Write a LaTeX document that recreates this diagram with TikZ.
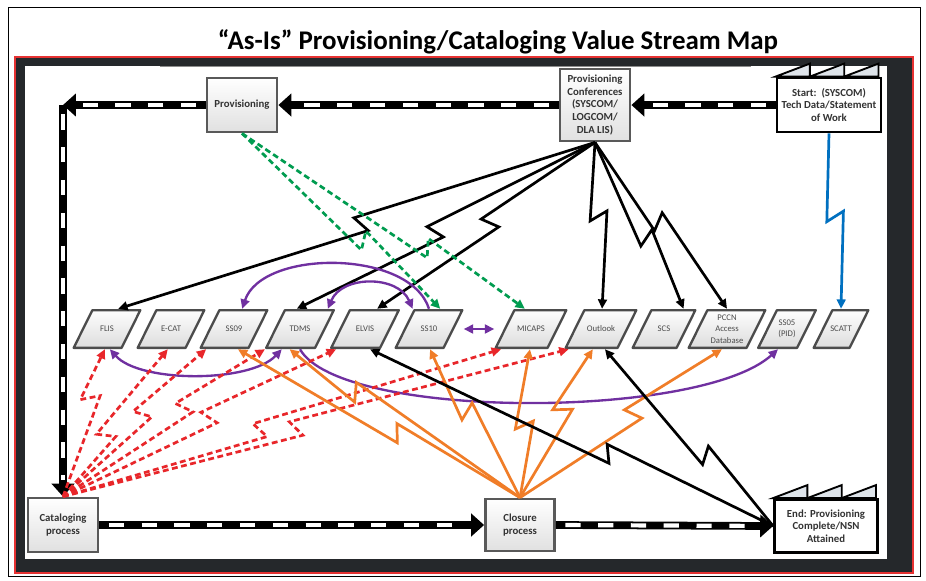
\documentclass[tikz,border=0pt]{standalone}
\usepackage{fontspec}
\setmainfont{Carlito}
\usetikzlibrary{shapes}
\usetikzlibrary{arrows.meta}
\usetikzlibrary{calc}
\definecolor{vsmgreen}{RGB}{0,156,80}
\definecolor{vsmred}{RGB}{232,38,42}
\definecolor{vsmorange}{RGB}{240,125,40}
\definecolor{vsmpurple}{RGB}{112,48,160}
\definecolor{vsmblue}{RGB}{0,112,192}
\definecolor{framedark}{RGB}{37,40,43}
\definecolor{framered}{RGB}{230,50,50}
\definecolor{roofgray}{RGB}{222,228,234}
\tikzstyle{process}=[
        rectangle,
        draw=black!65,
        line width=2.4pt,
        top color=white,
        bottom color=black!12,
        text=black!80,
        font=\bfseries\fontsize{9.2}{10.8}\selectfont,
        align=center,
        minimum width=2.1cm,
        minimum height=1.62cm,
        inner sep=1pt
]
\tikzstyle{factory}=[
        rectangle,
        draw=black,
        line width=2.4pt,
        fill=white,
        text=black!80,
        font=\bfseries\fontsize{9.2}{10.8}\selectfont,
        align=center,
        minimum width=3.12cm,
        minimum height=1.62cm,
        inner sep=1pt
]
\tikzstyle{roof}=[draw=black,line width=1.6pt,fill=roofgray]
% slanted data box, drawn inside its own rectangle
\tikzstyle{system}=[rectangle,text=black!70,font=\fontsize{7.4}{9.6}\selectfont,
align=center,minimum width=2.07cm,minimum height=1.2cm,inner sep=0pt,
path picture={
  \path[draw=black!70,line width=2pt,line join=round,top color=white,bottom color=black!14]
    ($(path picture bounding box.south west)+(1pt,1pt)$)
    -- ($(path picture bounding box.south east)+(-17pt,1pt)$)
    -- ($(path picture bounding box.north east)+(-1pt,-1pt)$)
    -- ($(path picture bounding box.north west)+(17pt,-1pt)$) -- cycle;
}]
\tikzstyle{push}=[line width=6.6pt,-{Triangle[length=11pt,width=19pt]},
postaction={draw=white,-,line width=3.6pt,dash pattern=on 13pt off 15pt,
dash phase=-6pt,shorten >=14pt,shorten <=2pt}]
\tikzstyle{link}=[-{Triangle[length=8pt,width=7.5pt]},line width=2.3pt]
\tikzstyle{both}=[{Triangle[length=8pt,width=7.5pt]}-{Triangle[length=8pt,width=7.5pt]},
line width=2pt,vsmpurple]
\tikzstyle{pointille}=[dash pattern=on 5pt off 3pt]
\tikzset{bolt/.style={to path={
  -- ($(\tikztostart)!#1!(\tikztotarget)!7pt!-90:(\tikztotarget)$)
  -- ($(\tikztostart)!#1!(\tikztotarget)!7pt!90:(\tikztotarget)!-8pt!(\tikztotarget)$)
  -- (\tikztotarget) \tikztonodes}},
  bolt/.default=0.5}

\begin{document}
\begin{tikzpicture}[x=0.03cm,y=-0.03cm]
\useasboundingbox (0,0) rectangle (926,580);
%Frame
\draw[black,line width=0.8pt] (8,7) rectangle (920,576);
\fill[framedark] (15,57) rectangle (913,573);
\draw[framered,line width=1pt] (15,57) rectangle (913,573);
\fill[white] (25,66) rectangle (887,559);
\draw[black!45,line width=0.6pt] (160,66) -- (751,66);
\node[font=\bfseries\fontsize{23}{27}\selectfont] (titre) at (498,42) {“As-Is” Provisioning/Cataloging Value Stream Map};
%Process boxes
\node[process] (prov) at (242,105) {Provisioning};
\node[process,minimum height=2.16cm] (conf) at (595,105) {Provisioning\\Conferences\\(SYSCOM/\\LOGCOM/\\DLA LIS)};
\node[factory] (start) at (829,105) {Start:\ \ (SYSCOM)\\Tech Data/Statement\\of Work};
\node[process] (cat) at (63,525) {Cataloging\\process};
\node[process,minimum width=2.07cm,minimum height=1.56cm] (clo) at (520,525) {Closure\\process};
\node[factory,minimum width=3.09cm,minimum height=1.59cm] (end) at (826,526) {End: Provisioning\\Complete/NSN\\Attained};
\foreach \n in {start,end}
  \foreach \i in {0,1,2}
    \draw[roof] ($(\n.north west)+(\i*34.3,0)$) -- ++(34.3,-13) -- ++(0,13) -- cycle;
%Systems
\node[system] (flis) at (107,329) {FLIS};
\node[system] (ecat) at (171,329) {E-CAT};
\node[system] (ss09) at (234,329) {SS09};
\node[system,minimum width=2.1cm] (tdms) at (300,329) {TDMS};
\node[system,minimum width=2.1cm] (elvis) at (365,329) {ELVIS};
\node[system] (ss10) at (429,329) {SS10};
\node[system,minimum width=2.19cm] (micaps) at (531,329) {MICAPS};
\node[system,minimum width=2.19cm] (outlook) at (601,329) {Outlook};
\node[system,minimum width=1.95cm] (scs) at (664,329) {SCS};
\node[system,minimum width=2.37cm] (pccn) at (727,329) {PCCN\\Access\\Database};
\node[system,minimum width=1.8cm] (ss05) at (787,329) {SS05\\(PID)};
\node[system,minimum width=1.71cm] (scatt) at (841,329) {SCATT};
%Drawing Edges
\coordinate (coin) at (63,105);
\draw[push] (start.west) -- (conf.east);
\draw[push] (conf.west) -- (prov.east);
\draw[push] (prov.west) -- (coin);
\draw[push] (coin) -- (cat.north);
\draw[push] (cat.east) -- (clo.west);
\draw[push] (clo.east) -- (end.west);
% conferences
\draw[link] (conf.south) to[bolt=0.5] (flis.61);
\draw[link] (conf.south) to[bolt=0.55] (tdms.99);
\draw[link] (conf.south) to[bolt=0.5] (elvis.59);
\draw[link] (conf.south) to[bolt=0.47] (outlook.87);
\draw[link] (conf.south) to[bolt=0.6] (scs.46);
\draw[link] (conf.south) to[bolt=0.5] (pccn.90);
\draw[link,vsmblue] (start.south) to[bolt=0.5] (scatt.90);
\draw[link,vsmgreen,pointille] (prov.south) to[bolt=0.63] (ss10.61);
\draw[link,vsmgreen,pointille] (prov.south) to[bolt=0.67] (micaps.107);
% systems links
\draw[link,vsmpurple,line width=2pt] (ss10.90) .. controls (410,249) and (262,249) .. (ss09.68);
\draw[both] (tdms.36) .. controls (342,275) and (398,275) .. (ss10.129);
\draw[both] (ss10.east) -- (micaps.west);
\draw[both] (flis.278) .. controls (140,383) and (250,383) .. (tdms.228);
\draw[link,vsmpurple,line width=2pt] (tdms.270) .. controls (340,420) and (700,420) .. (ss05.246);
% cataloging
\draw[link,vsmred,pointille] (cat.north) to[bolt=0.7] (flis.264);
\draw[link,vsmred,pointille] (cat.north) to[bolt=0.44] (ecat.261);
\draw[link,vsmred,pointille] (cat.north) to[bolt=0.58] (ss09.216);
\draw[link,vsmred,pointille] (cat.north) to[bolt=0.62] (tdms.210);
\draw[link,vsmred,pointille] (cat.north) to[bolt=0.55] (elvis.215);
\draw[link,vsmred,pointille] (cat.north) to[bolt=0.46] (micaps.214);
\draw[link,vsmred,pointille] (cat.north) to[bolt=0.47] (outlook.212);
% closure
\draw[link,vsmorange] (clo.north) to[bolt=0.45] (ss09.281);
\draw[link,vsmorange] (clo.north) to[bolt=0.73] (tdms.243);
\draw[link,vsmorange] (clo.north) to[bolt=0.61] (ss10.273);
\draw[link,vsmorange] (clo.north) to[bolt=0.52] (micaps.267);
\draw[link,vsmorange] (clo.north) to[bolt=0.62] (outlook.248);
\draw[link,vsmorange] (clo.north) to[bolt=0.58] (pccn.256);
% end
\draw[link] (end.west) to[bolt=0.42] (elvis.284);
\draw[link] (end.west) to[bolt=0.42] (outlook.281);
\end{tikzpicture}
\end{document}
